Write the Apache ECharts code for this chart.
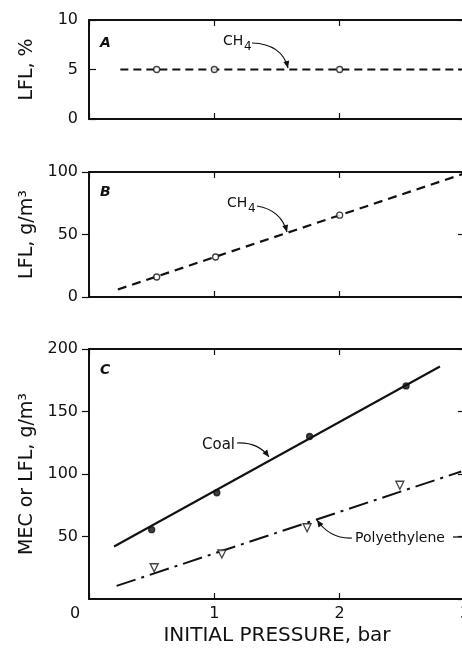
<!DOCTYPE html>
<html><head><meta charset="utf-8">
<script src="https://cdn.jsdelivr.net/npm/echarts@6/dist/echarts.min.js"></script>
<style>html,body{margin:0;padding:0;background:#fff}#c{width:462px;height:652px}</style>
</head><body><div id="c"></div>
<script>
// ---- data ----
const xTickValues = [0, 1, 2, 3];
const panelAYTicks = [0, 5, 10];
const panelBYTicks = [0, 50, 100];
const panelCYTicks = [0, 50, 100, 150, 200];

const ch4PctX = [0.54, 1.0, 2.0];
const ch4PctY = [5, 5, 5];
const ch4PctLineX = [0.25, 3.0];
const ch4PctLineY = [5, 5];

const ch4MassX = [0.54, 1.01, 2.0];
const ch4MassY = [16, 32, 65.5];
const ch4MassLineX = [0.23, 3.0];
const ch4MassLineY = [6, 99];

const coalX = [0.50, 1.02, 1.76, 2.53];
const coalY = [55.5, 85, 130, 170.5];
const coalLineX = [0.20, 2.80];
const coalLineY = [42, 186];

const peX = [0.52, 1.06, 1.74, 2.48];
const peY = [25, 36, 57, 91];
const peLineX = [0.22, 2.97];
const peLineY = [10.5, 102];

// ---- helpers ----
const FONT = 'DejaVu Sans';
const zip = (xs, ys) => xs.map((x, i) => [x, ys[i]]);
const K = '#111';
const gridLeft = 89, gridWidth = 376;
const grids = [
  {left: gridLeft, width: gridWidth, top: 20, height: 99, outerBoundsMode: 'none', containLabel: false},
  {left: gridLeft, width: gridWidth, top: 172, height: 125, outerBoundsMode: 'none', containLabel: false},
  {left: gridLeft, width: gridWidth, top: 349, height: 250, outerBoundsMode: 'none', containLabel: false}
];
const yRanges = [[0, 10, 5], [0, 100, 50], [0, 200, 50]];
const yTickInside = [true, false, false];

const xAxes = [], yAxes = [];
grids.forEach((g, i) => {
  const isLast = i === 2;
  xAxes.push({
    gridIndex: i, type: 'value', min: 0, max: 3, interval: 1, position: 'bottom',
    axisLine: {show: true, onZero: false, lineStyle: {color: K, width: 2}},
    axisTick: {show: true, inside: true, length: 6, lineStyle: {color: K, width: 1.2}},
    axisLabel: {show: isLast, color: K, fontFamily: FONT, fontSize: 16, margin: 7,
      formatter: v => v === 0 ? '{z|0}' : String(v),
      rich: {z: {fontFamily: FONT, fontSize: 16, color: K, padding: [0, 28, 0, 0]}}},
    splitLine: {show: false},
    name: isLast ? 'INITIAL PRESSURE, bar' : '', nameLocation: 'middle', nameGap: 27,
    nameTextStyle: {color: K, fontFamily: FONT, fontSize: 20, verticalAlign: 'top'}
  });
  xAxes.push({
    gridIndex: i, type: 'value', min: 0, max: 3, interval: 1, position: 'top',
    axisLine: {show: true, onZero: false, lineStyle: {color: K, width: 2}},
    axisTick: {show: true, inside: true, length: 6, lineStyle: {color: K, width: 1.2}},
    axisLabel: {show: false}, splitLine: {show: false}
  });
  const [mn, mx, iv] = yRanges[i];
  const names = ['LFL, %', 'LFL, g/m³', 'MEC or LFL, g/m³'];
  yAxes.push({
    gridIndex: i, type: 'value', min: mn, max: mx, interval: iv, position: 'left',
    axisLine: {show: true, onZero: false, lineStyle: {color: K, width: 2}},
    axisTick: {show: true, inside: yTickInside[i], length: 7, lineStyle: {color: K, width: 1.2}},
    axisLabel: {color: K, fontFamily: FONT, fontSize: 16, margin: 11,
      showMinLabel: !isLast},
    splitLine: {show: false},
    name: names[i], nameLocation: 'middle', nameGap: 52, nameRotate: 90,
    nameTextStyle: {color: K, fontFamily: FONT, fontSize: 19}
  });
  yAxes.push({
    gridIndex: i, type: 'value', min: mn, max: mx, interval: iv, position: 'right',
    axisLine: {show: true, onZero: false, lineStyle: {color: K, width: 2}},
    axisTick: {show: true, inside: true, length: 7, lineStyle: {color: K, width: 1.2}},
    axisLabel: {show: false}, splitLine: {show: false}
  });
});

function lineSeries(gi, data, type, width) {
  return {type: 'line', xAxisIndex: gi * 2, yAxisIndex: gi * 2, data, showSymbol: false,
    symbol: 'none', silent: true, animation: false,
    lineStyle: {color: K, width: width || 2, type}};
}
function pointSeries(gi, data, symbol, size, filled, rotate) {
  return {type: 'scatter', xAxisIndex: gi * 2, yAxisIndex: gi * 2, data, symbol,
    symbolSize: size, symbolRotate: rotate || 0, animation: false, z: 5,
    itemStyle: {color: filled ? K : '#fff', borderColor: K, borderWidth: 1.3}};
}

const series = [
  lineSeries(0, zip(ch4PctLineX, ch4PctLineY), [8, 5], 2),
  pointSeries(0, zip(ch4PctX, ch4PctY), 'circle', 6, false),
  lineSeries(1, zip(ch4MassLineX, ch4MassLineY), [9, 6], 2.2),
  pointSeries(1, zip(ch4MassX, ch4MassY), 'circle', 6, false),
  lineSeries(2, zip(coalLineX, coalLineY), 'solid', 2),
  pointSeries(2, zip(coalX, coalY), 'circle', 6, true),
  lineSeries(2, zip(peLineX, peLineY), [20, 6, 3, 6], 2),
  pointSeries(2, zip(peX, peY), 'triangle', 8, false, 180)
];

function arrow(x0, y0, cx, cy, x1, y1) {
  const ang = Math.atan2(y1 - cy, x1 - cx);
  const L = 7, W = 3;
  const bx = x1 - L * Math.cos(ang), by = y1 - L * Math.sin(ang);
  const px = -Math.sin(ang) * W, py = Math.cos(ang) * W;
  return [
    {type: 'bezierCurve', shape: {x1: x0, y1: y0, x2: x1, y2: y1, cpx1: cx, cpy1: cy},
      style: {stroke: K, lineWidth: 1.2, fill: null}},
    {type: 'polygon', shape: {points: [[x1, y1], [bx + px, by + py], [bx - px, by - py]]},
      style: {fill: K}}
  ];
}
function txt(x, y, t, size, extra) {
  return {type: 'text', x, y, style: Object.assign({text: t, fill: K,
    font: (size || 15) + 'px "' + FONT + '"', verticalAlign: 'middle', textVerticalAlign: 'middle'}, extra || {})};
}

const italic = {font: 'italic bold 14px "' + FONT + '"'};
const graphics = [
  txt(100, 43, 'A', 14, italic),
  txt(100, 192, 'B', 14, italic),
  txt(100, 370, 'C', 14, italic),
  txt(223, 41, 'CH', 14), txt(244, 47, '4', 12),
  ...arrow(252, 43, 282, 44, 288, 68),
  txt(227, 203, 'CH', 14), txt(248, 209, '4', 12),
  ...arrow(257, 206, 281, 210, 287, 232),
  txt(202, 445, 'Coal', 15),
  ...arrow(237, 443, 258, 442, 269, 457),
  txt(355, 538, 'Polyethylene', 14),
  ...arrow(352, 538, 330, 539, 317, 520),
  {type: 'line', shape: {x1: 453, y1: 537, x2: 462, y2: 537}, style: {stroke: K, lineWidth: 1.3}}
];

const chart = echarts.init(document.getElementById('c'), null, {renderer: 'canvas'});
chart.setOption({
  animation: false, backgroundColor: '#fff',
  grid: grids, xAxis: xAxes, yAxis: yAxes, series, graphic: graphics
});
</script></body></html>
